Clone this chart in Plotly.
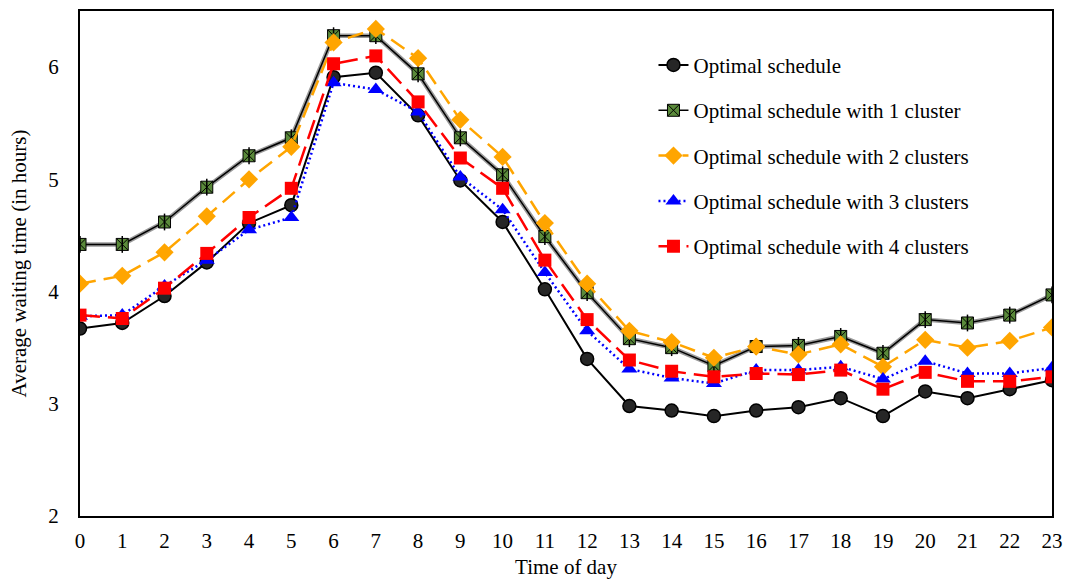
import plotly.graph_objects as go

hours = list(range(24))
tick_labels = [str(h) for h in hours]

optimal = [3.67, 3.72, 3.96, 4.26, 4.61, 4.77, 5.91, 5.95, 5.57, 4.99, 4.62, 4.02,
           3.40, 2.98, 2.94, 2.89, 2.94, 2.97, 3.05, 2.89, 3.11, 3.05, 3.13, 3.21]
cluster1 = [4.42, 4.42, 4.62, 4.93, 5.21, 5.37, 6.28, 6.28, 5.94, 5.37, 5.04, 4.49,
            3.99, 3.58, 3.50, 3.34, 3.51, 3.52, 3.60, 3.45, 3.75, 3.72, 3.79, 3.97]
cluster2 = [4.07, 4.14, 4.35, 4.67, 5.00, 5.29, 6.22, 6.34, 6.08, 5.53, 5.20, 4.61,
            4.07, 3.65, 3.55, 3.41, 3.51, 3.44, 3.53, 3.33, 3.57, 3.50, 3.56, 3.68]
cluster3 = [3.78, 3.79, 4.05, 4.28, 4.55, 4.66, 5.86, 5.80, 5.60, 5.02, 4.73, 4.17,
            3.65, 3.31, 3.23, 3.18, 3.30, 3.30, 3.33, 3.22, 3.38, 3.27, 3.27, 3.32]
cluster4 = [3.79, 3.76, 4.03, 4.34, 4.66, 4.92, 6.03, 6.10, 5.69, 5.19, 4.92, 4.28,
            3.75, 3.39, 3.29, 3.24, 3.27, 3.26, 3.30, 3.13, 3.28, 3.20, 3.20, 3.24]

names = ["Optimal schedule",
         "Optimal schedule with 1 cluster",
         "Optimal schedule with 2 clusters",
         "Optimal schedule with 3 clusters",
         "Optimal schedule with 4 clusters"]

FONT = "Liberation Serif, Times New Roman, serif"
FS = 21

fig = go.Figure()

fig.add_trace(go.Scatter(
    x=hours, y=optimal, name=names[0], mode="lines+markers", legendgroup="g0",
    line=dict(color="black", width=2),
    marker=dict(symbol="circle", size=13, color="#262626", line=dict(color="black", width=1.5))))

# gray halo under 1-cluster line
fig.add_trace(go.Scatter(
    x=hours, y=cluster1, mode="lines", showlegend=False, hoverinfo="skip",
    line=dict(color="#9a9a9a", width=4.5)))
fig.add_trace(go.Scatter(
    x=hours, y=cluster1, name=names[1], mode="lines+markers", legendgroup="g1",
    line=dict(color="black", width=1.5),
    marker=dict(symbol="square-x", size=12, color="#5a8a3a", line=dict(color="black", width=1))))
fig.add_trace(go.Scatter(
    x=hours, y=cluster1, mode="markers", showlegend=False, hoverinfo="skip",
    marker=dict(symbol="line-ns-open", size=12, color="black", line=dict(color="black", width=1.5))))

fig.add_trace(go.Scatter(
    x=hours, y=cluster2, name=names[2], mode="lines+markers", legendgroup="g2",
    line=dict(color="#FFA500", width=2.5, dash="16px,8px"),
    marker=dict(symbol="diamond", size=14, color="#FFA500")))

fig.add_trace(go.Scatter(
    x=hours, y=cluster3, name=names[3], mode="lines+markers", legendgroup="g3",
    line=dict(color="#0000FF", width=2.5, dash="2px,3px"),
    marker=dict(symbol="triangle-up", size=14, color="#0000FF")))

fig.add_trace(go.Scatter(
    x=hours, y=cluster4, name=names[4], mode="lines+markers", legendgroup="g4",
    line=dict(color="#FF0000", width=2.5, dash="20px,8px"),
    marker=dict(symbol="square", size=13, color="#FF0000")))

fig.update_layout(
    width=1065, height=579,
    margin=dict(l=80, r=13, t=11, b=63, autoexpand=False),
    plot_bgcolor="white", paper_bgcolor="white",
    font=dict(family=FONT, size=FS, color="black"),
    showlegend=True,
    legend=dict(x=0.59, y=0.933, xanchor="left", yanchor="top",
                bgcolor="rgba(0,0,0,0)", traceorder="grouped", tracegroupgap=15,
                font=dict(family=FONT, size=FS, color="black"), itemwidth=30),
    xaxis=dict(range=[0, 23], tickmode="array", tickvals=hours, ticktext=tick_labels,
               showgrid=False, zeroline=False, showline=True, linecolor="black",
               linewidth=2, mirror=True, ticks="outside", ticklen=5,
               tickcolor="rgba(0,0,0,0)", automargin=False,
               title=dict(text="Time of day", standoff=16,
                          font=dict(family=FONT, size=FS))),
    yaxis=dict(range=[2, 6.5], tickvals=[2, 3, 4, 5, 6],
               showgrid=False, zeroline=False, showline=True, linecolor="black",
               linewidth=2, mirror=True, ticks="outside", ticklen=15,
               tickcolor="rgba(0,0,0,0)", automargin=False,
               title=dict(text="Average waiting time (in hours)", standoff=16,
                          font=dict(family=FONT, size=FS))),
)

fig.write_html("out.html",
               config={"displayModeBar": False},
               post_script="document.body.style.margin='0px';"
                           "document.documentElement.style.overflow='hidden';")
